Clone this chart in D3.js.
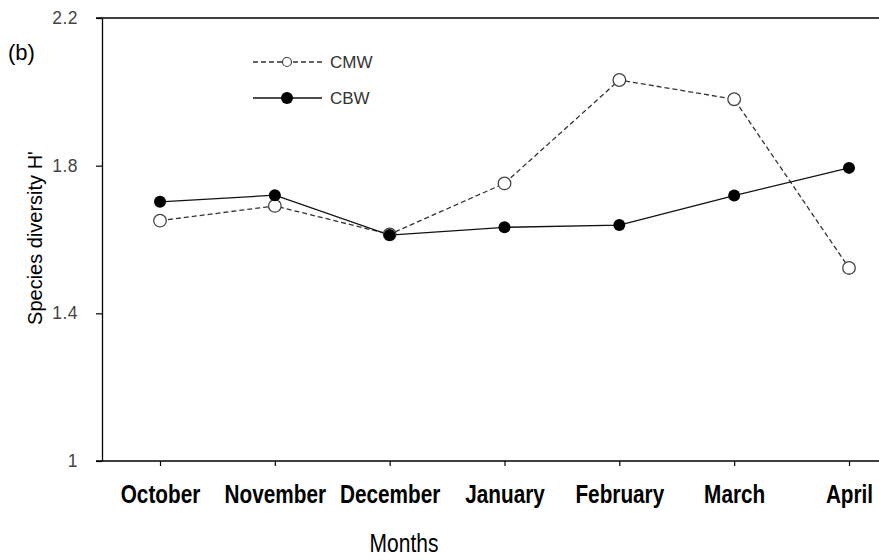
<!DOCTYPE html>
<html><head><meta charset="utf-8">
<script src="https://cdn.jsdelivr.net/npm/d3@7"></script>
<style>
html,body{margin:0;padding:0;background:#fff;}
svg{display:block;}
</style>
</head><body>
<svg id="chart" width="879" height="560"></svg>
<script>
const months = ["October","November","December","January","February","March","April"];
const cmw = [1.651, 1.691, 1.614, 1.752, 2.032, 1.980, 1.523];
const cbw = [1.702, 1.720, 1.612, 1.633, 1.639, 1.719, 1.794];
const yTicks = [1, 1.4, 1.8, 2.2];
const yTickLabels = ["1", "1.4", "1.8", "2.2"];
const seriesNames = ["CMW", "CBW"];

const svg = d3.select("#chart");
const x = d3.scalePoint().domain(months).range([160, 849]);
const y = d3.scaleLinear().domain([1, 2.2]).range([461, 18]);
const axisX0 = 102;

// top frame line extends to right edge
svg.append("line").attr("x1", 96).attr("x2", 879).attr("y1", y(2.2)).attr("y2", y(2.2))
  .attr("stroke", "#000").attr("stroke-width", 1.3);

// Y axis
const yAxis = d3.axisLeft(y).tickValues(yTicks).tickSize(6).tickSizeOuter(0)
  .tickFormat((d, i) => yTickLabels[i]);
const gy = svg.append("g").attr("transform", `translate(${axisX0},0)`).call(yAxis);
gy.select(".domain").attr("stroke", "#000").attr("stroke-width", 1.3);
gy.selectAll(".tick line").attr("stroke", "#000").attr("stroke-width", 1.2);
gy.selectAll(".tick text").attr("x", -24).attr("font-family", "'Liberation Sans', Arial, sans-serif")
  .attr("font-size", 17.5).attr("fill", "#444").attr("letter-spacing", "0.5px");

// X axis
const xAxis = d3.axisBottom(x).tickSize(5).tickSizeOuter(0);
const gx = svg.append("g").attr("transform", `translate(0,${y(1)})`).call(xAxis);
gx.select(".domain").remove();
gx.append("line").attr("x1", 96).attr("x2", 879).attr("y1", 0).attr("y2", 0)
  .attr("stroke", "#000").attr("stroke-width", 1.3);
gx.selectAll(".tick line").attr("stroke", "#000").attr("stroke-width", 1.2);
gx.selectAll(".tick text").attr("y", 24).attr("dy", "0.71em")
  .attr("transform", "scale(0.83,1)")
  .attr("font-family", "'Liberation Sans', Arial, sans-serif")
  .attr("font-weight", "bold").attr("font-size", 25).attr("fill", "#000");

// Axis titles
svg.append("text").attr("transform", "translate(404,552) scale(0.84,1)").attr("text-anchor", "middle")
  .attr("font-family", "'Liberation Sans', Arial, sans-serif")
  .attr("font-size", 25).attr("fill", "#000").text("Months");
svg.append("text").attr("transform", "translate(42,238) rotate(-90)").attr("text-anchor", "middle")
  .attr("font-family", "'Liberation Sans', Arial, sans-serif")
  .attr("font-size", 20).attr("fill", "#000").text("Species diversity H'");
svg.append("text").attr("x", 8).attr("y", 60)
  .attr("font-family", "'Liberation Sans', Arial, sans-serif")
  .attr("font-size", 22).attr("fill", "#000").text("(b)");

// Lines
const line = d3.line().x((d, i) => x(months[i])).y(d => y(d));
svg.append("path").datum(cmw).attr("d", line).attr("fill", "none")
  .attr("stroke", "#333").attr("stroke-width", 1.3).attr("stroke-dasharray", "5,3");
svg.append("path").datum(cbw).attr("d", line).attr("fill", "none")
  .attr("stroke", "#111").attr("stroke-width", 1.3);

// Markers
svg.append("g").selectAll("circle").data(cmw).join("circle")
  .attr("cx", (d, i) => x(months[i])).attr("cy", d => y(d)).attr("r", 6.3)
  .attr("fill", "#fff").attr("stroke", "#444").attr("stroke-width", 1.3);
svg.append("g").selectAll("circle").data(cbw).join("circle")
  .attr("cx", (d, i) => x(months[i])).attr("cy", d => y(d)).attr("r", 6)
  .attr("fill", "#000");

// Legend
const leg = svg.append("g");
const legY = [62, 98];
leg.append("line").attr("x1", 253).attr("x2", 322).attr("y1", legY[0]).attr("y2", legY[0])
  .attr("stroke", "#333").attr("stroke-width", 1.3).attr("stroke-dasharray", "5,3");
leg.append("circle").attr("cx", 287).attr("cy", legY[0]).attr("r", 4.5)
  .attr("fill", "#fff").attr("stroke", "#444").attr("stroke-width", 1.2);
leg.append("line").attr("x1", 253).attr("x2", 322).attr("y1", legY[1]).attr("y2", legY[1])
  .attr("stroke", "#111").attr("stroke-width", 1.3);
leg.append("circle").attr("cx", 287).attr("cy", legY[1]).attr("r", 6).attr("fill", "#000");
seriesNames.forEach((n, i) => {
  leg.append("text").attr("x", 330).attr("y", legY[i]).attr("dy", "0.36em")
    .attr("font-family", "'Liberation Sans', Arial, sans-serif")
    .attr("font-size", 17).attr("fill", "#333").text(n);
});
</script>
</body></html>
